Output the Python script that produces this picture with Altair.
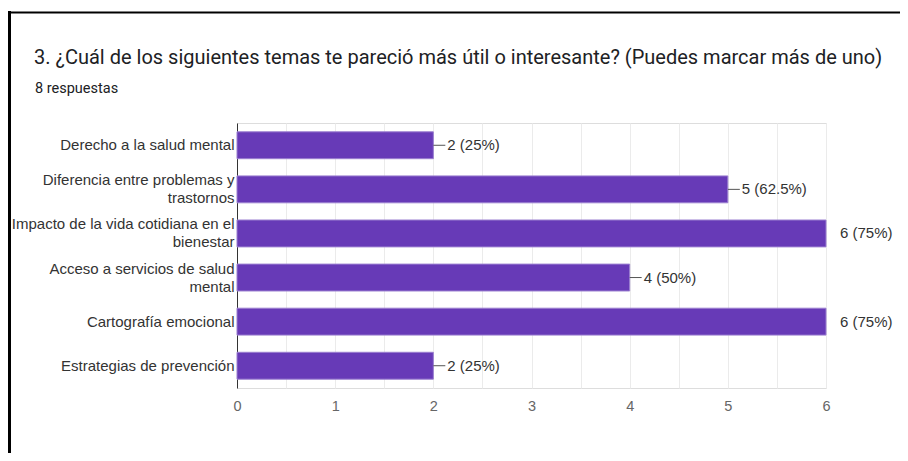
import altair as alt
import pandas as pd

title_text = "3. ¿Cuál de los siguientes temas te pareció más útil o interesante? (Puedes marcar más de uno)"
subtitle_text = "8 respuestas"

categories = [
    "Derecho a la salud mental",
    "Diferencia entre problemas y\ntrastornos",
    "Impacto de la vida cotidiana en el\nbienestar",
    "Acceso a servicios de salud\nmental",
    "Cartografía emocional",
    "Estrategias de prevención",
]
counts = [2, 5, 6, 4, 6, 2]
labels = ["2 (25%)", "5 (62.5%)", "6 (75%)", "4 (50%)", "6 (75%)", "2 (25%)"]
tick_values = [0, 0.5, 1, 1.5, 2, 2.5, 3, 3.5, 4, 4.5, 5, 5.5, 6]

df = pd.DataFrame({"cat": categories, "n": counts, "lab": labels})
one = pd.DataFrame({"t": [title_text], "s": [subtitle_text]})

W, H = 589, 265
LEFT, TOP = 229, 115
OX, OY = LEFT + 8, TOP + 8  # plot origin in page pixels

y_enc = alt.Y(
    "cat:N",
    sort=categories,
    scale=alt.Scale(paddingInner=0.39, paddingOuter=0.2),
    axis=alt.Axis(
        title=None,
        labelExpr="split(datum.label, '\\n')",
        labelFont="Liberation Sans",
        labelFontSize=15,
        labelColor="#333333",
        labelLineHeight=18,
        labelPadding=3,
        labelLimit=280,
        labelOffset={"condition": {"test": "indexof(datum.value, '\\n') >= 0", "value": -9}, "value": 0},
        ticks=False,
        domain=True,
        domainColor="#333333",
        domainWidth=1,
        grid=False,
    ),
)
x_enc = alt.X(
    "n:Q",
    scale=alt.Scale(domain=[0, 6], nice=False),
    axis=alt.Axis(
        title=None,
        values=tick_values,
        labelExpr="datum.value % 1 == 0 ? format(datum.value, 'd') : ''",
        labelFont="Liberation Sans",
        labelFontSize=14.5,
        labelColor="#666666",
        labelPadding=11,
        labelFlush=False,
        ticks=False,
        domain=False,
        grid=True,
        gridColor="#ebebeb",
        gridWidth=1,
    ),
)

bars = alt.Chart(df).mark_bar(color="#673AB7", stroke="#9b7fd0", strokeWidth=1).encode(
    x=x_enc, y=y_enc
)

leaders = alt.Chart(df).transform_filter("datum.n < 6").mark_rule(
    color="#555555", strokeWidth=1, x2Offset=12
).encode(x="n:Q", x2="n:Q", y=alt.Y("cat:N", sort=categories, bandPosition=0.5))

texts = alt.Chart(df).mark_text(
    align="left", baseline="middle", dx=14, font="Liberation Sans", fontSize=15, color="#333333"
).encode(x="n:Q", y=alt.Y("cat:N", sort=categories, bandPosition=0.5), text="lab:N")

title_mark = alt.Chart(one).mark_text(
    align="left", baseline="alphabetic", font="Roboto", fontSize=20, color="#202124"
).encode(x=alt.value(34 - OX), y=alt.value(64 - OY), text="t:N")

subtitle_mark = alt.Chart(one).mark_text(
    align="left", baseline="alphabetic", font="Roboto", fontSize=14.5, color="#202124"
).encode(x=alt.value(35 - OX), y=alt.value(92.5 - OY), text="s:N")

# decorative frame lines (left and top border of the screenshot)
frame_left = alt.Chart(one).mark_rule(color="#000000", strokeWidth=3).encode(
    x=alt.value(9.5 - OX), y=alt.value(11 - OY), y2=alt.value(461 - OY)
)
frame_top = alt.Chart(one).mark_rule(color="#000000", strokeWidth=2).encode(
    x=alt.value(8 - OX), x2=alt.value(908 - OX), y=alt.value(12.5 - OY)
)

chart = (
    alt.layer(bars, leaders, texts, title_mark, subtitle_mark, frame_left, frame_top)
    .properties(
        width=W,
        height=H,
        autosize=alt.AutoSizeParams(type="none"),
        padding={"left": LEFT, "top": TOP, "right": 908 - 16 - LEFT - W, "bottom": 461 - 16 - TOP - H},
    )
    .configure_view(stroke="#ebebeb")
    .configure(background="white")
)

chart.save("out.html", embed_options={"renderer": "svg", "actions": False})
